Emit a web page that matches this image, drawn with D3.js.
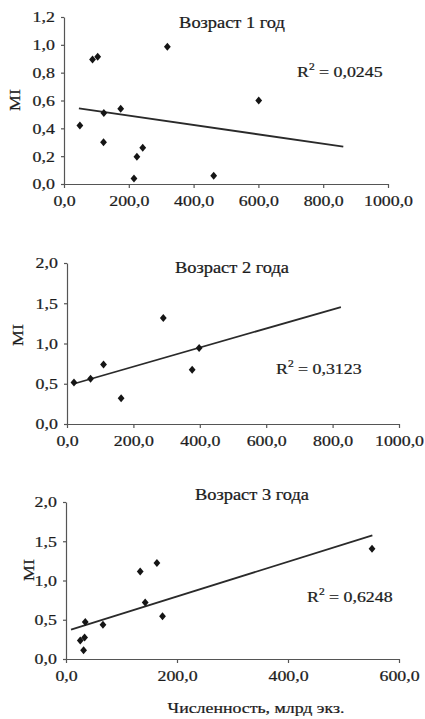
<!DOCTYPE html>
<html>
<head>
<meta charset="utf-8">
<script src="https://cdn.jsdelivr.net/npm/d3@7"></script>
<style>
  body { margin: 0; background: #fff; }
  svg { display: block; }
  text { font-family: "Liberation Serif", "Times New Roman", serif; fill: #1c1c1c; stroke: #1c1c1c; stroke-width: 0.25; }
</style>
</head>
<body>
<svg width="425" height="719"></svg>
<script>
// Возраст 1 год
const age1X = [49, 88, 104, 123, 122, 175, 216, 225, 243, 319, 462, 601];
const age1Y = [0.42, 0.895, 0.915, 0.51, 0.30, 0.54, 0.04, 0.196, 0.26, 0.987, 0.06, 0.60];
const trend1 = [[46, 0.544], [862, 0.268]];
const xTicks1 = [0, 200, 400, 600, 800, 1000];
const yTicks1 = [0, 0.2, 0.4, 0.6, 0.8, 1.0, 1.2];

// Возраст 2 года
const age2X = [21, 71, 110, 163, 290, 377, 398];
const age2Y = [0.517, 0.563, 0.74, 0.32, 1.317, 0.675, 0.944];
const trend2 = [[21, 0.50], [825, 1.453]];
const xTicks2 = [0, 200, 400, 600, 800, 1000];
const yTicks2 = [0, 0.5, 1.0, 1.5, 2.0];

// Возраст 3 года
const age3X = [25.7, 33.5, 31.7, 34.7, 66.6, 133.7, 163.8, 142.7, 173.9, 551.4];
const age3Y = [0.237, 0.275, 0.11, 0.471, 0.437, 1.116, 1.223, 0.721, 0.543, 1.405];
const trend3 = [[9, 0.373], [552, 1.575]];
const xTicks3 = [0, 200, 400, 600];
const yTicks3 = [0, 0.5, 1.0, 1.5, 2.0];

const titles = ['Возраст 1 год', 'Возраст 2 года', 'Возраст 3 года'];
const r2Values = ['0,0245', '0,3123', '0,6248'];
const yLabel = 'MI';
const xLabel = 'Численность, млрд экз.';

const panels = [
    { xs: age1X, ys: age1Y, trend: trend1, xTicks: xTicks1, yTicks: yTicks1,
      box: { left: 64, right: 388, top: 17, bottom: 184 },
      titleAt: [232, 28], r2At: [297, 77], miAt: [15, 100] },
    { xs: age2X, ys: age2Y, trend: trend2, xTicks: xTicks2, yTicks: yTicks2,
      box: { left: 67, right: 399, top: 263, bottom: 424 },
      titleAt: [232, 273], r2At: [276, 374], miAt: [18, 335] },
    { xs: age3X, ys: age3Y, trend: trend3, xTicks: xTicks3, yTicks: yTicks3,
      box: { left: 66, right: 399, top: 502, bottom: 659 },
      titleAt: [252, 500], r2At: [307, 602], miAt: [29, 570] }
];

const svg = d3.select('svg');
const fmt = v => d3.format('.1f')(v).replace('.', ',');
const SX = 1.15; // scan is a bit stretched horizontally
const ink = '#1c1c1c';
const axisInk = '#555';

// diamond marker
const diamond = (cx, cy) => `M${cx},${cy - 4}L${cx + 3.4},${cy}L${cx},${cy + 4}L${cx - 3.4},${cy}Z`;

panels.forEach((p, i) => {
    const x = d3.scaleLinear()
        .domain([0, d3.max(p.xTicks)])
        .range([p.box.left, p.box.right]);
    const y = d3.scaleLinear()
        .domain([0, d3.max(p.yTicks)])
        .range([p.box.bottom, p.box.top]);

    const g = svg.append('g');

    // Оси
    const xAxis = d3.axisBottom(x).tickValues(p.xTicks).tickFormat(fmt)
        .tickSizeInner(4).tickSizeOuter(0).tickPadding(7);
    const yAxis = d3.axisLeft(y).tickValues(p.yTicks).tickFormat(fmt)
        .tickSizeInner(3).tickSizeOuter(0).tickPadding(8);

    const gx = g.append('g')
        .attr('transform', `translate(0, ${p.box.bottom})`)
        .call(xAxis);
    const gy = g.append('g')
        .attr('transform', `translate(${p.box.left}, 0)`)
        .call(yAxis);

    [gx, gy].forEach(a => {
        a.select('.domain').attr('stroke', axisInk).attr('stroke-width', 1.2);
        a.selectAll('.tick line').attr('stroke', axisInk).attr('stroke-width', 1.2);
        a.selectAll('.tick text')
            .attr('font-family', '"Liberation Serif", serif')
            .attr('font-size', 15.5)
            .attr('fill', ink)
            .attr('transform', `scale(${SX},1)`);
    });
    gy.selectAll('.tick text').attr('x', -8 / SX - 1);

    // Линия тренда
    g.append('line')
        .attr('x1', x(p.trend[0][0])).attr('y1', y(p.trend[0][1]))
        .attr('x2', x(p.trend[1][0])).attr('y2', y(p.trend[1][1]))
        .attr('stroke', '#2a2a2a')
        .attr('stroke-width', 1.8);

    // Точки
    const pts = p.xs.map((v, k) => ({ x: v, y: p.ys[k] }));
    g.selectAll('path.pt').data(pts).enter()
        .append('path')
        .attr('class', 'pt')
        .attr('d', d => diamond(x(d.x), y(d.y)))
        .attr('fill', '#151515');

    // Заголовок
    g.append('text')
        .attr('transform', `translate(${p.titleAt[0]}, ${p.titleAt[1]}) scale(${SX},1)`)
        .attr('text-anchor', 'middle')
        .attr('font-size', 16)
        .text(titles[i]);

    // R^2
    const r2 = g.append('text')
        .attr('transform', `translate(${p.r2At[0]}, ${p.r2At[1]}) scale(${SX},1)`)
        .attr('font-size', 15.5);
    r2.append('tspan').text('R');
    r2.append('tspan').attr('font-size', 10).attr('dy', -7).text('2');
    r2.append('tspan').attr('dy', 7).text(' = ' + r2Values[i]);

    // Подпись оси Y
    g.append('text')
        .attr('transform', `translate(${p.miAt[0] + 5}, ${p.miAt[1]}) rotate(-90) scale(${SX},1)`)
        .attr('text-anchor', 'middle')
        .attr('font-size', 15.5)
        .text(yLabel);
});

// Подпись оси X (нижний график)
svg.append('text')
    .attr('transform', `translate(256, 713) scale(${SX},1)`)
    .attr('text-anchor', 'middle')
    .attr('font-size', 15.5)
    .text(xLabel);
</script>
</body>
</html>
